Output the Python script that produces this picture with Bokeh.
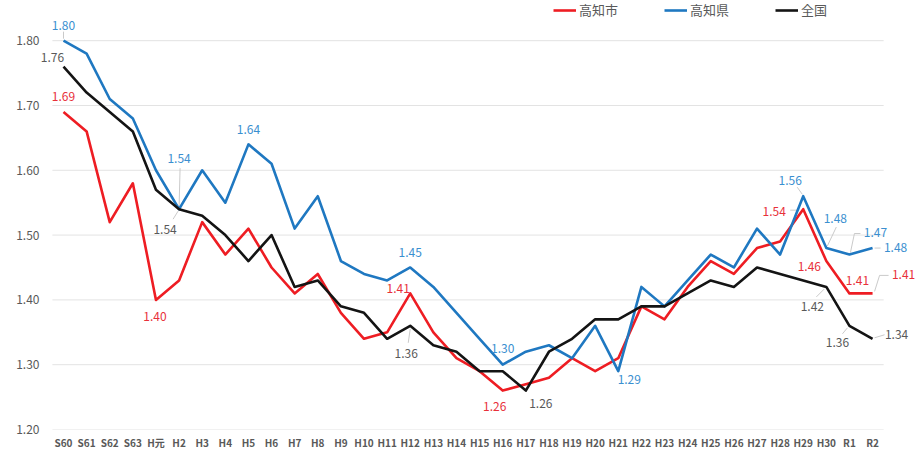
from bokeh.plotting import figure
from bokeh.models import (ColumnDataSource, Range1d, FixedTicker, LabelSet, Legend,
                          LegendItem, NumeralTickFormatter)
from bokeh.embed import file_html
from bokeh.resources import INLINE
from bokeh.core.properties import value

# ---------------- data ----------------
categories = ["S60", "S61", "S62", "S63", "H元", "H2", "H3", "H4", "H5", "H6", "H7", "H8",
              "H9", "H10", "H11", "H12", "H13", "H14", "H15", "H16", "H17", "H18", "H19",
              "H20", "H21", "H22", "H23", "H24", "H25", "H26", "H27", "H28", "H29", "H30",
              "R1", "R2"]

kochi_city = [1.69, 1.66, 1.52, 1.58, 1.40, 1.43, 1.52, 1.47, 1.51, 1.45, 1.41, 1.44,
              1.38, 1.34, 1.35, 1.41, 1.35, 1.31, 1.29, 1.26, 1.27, 1.28, 1.31, 1.29,
              1.31, 1.39, 1.37, 1.42, 1.46, 1.44, 1.48, 1.49, 1.54, 1.46, 1.41, 1.41]

kochi_pref = [1.80, 1.78, 1.71, 1.68, 1.60, 1.54, 1.60, 1.55, 1.64, 1.61, 1.51, 1.56,
              1.46, 1.44, 1.43, 1.45, 1.42, 1.38, 1.34, 1.30, 1.32, 1.33, 1.31, 1.36,
              1.29, 1.42, 1.39, 1.43, 1.47, 1.45, 1.51, 1.47, 1.56, 1.48, 1.47, 1.48]

national = [1.76, 1.72, 1.69, 1.66, 1.57, 1.54, 1.53, 1.50, 1.46, 1.50, 1.42, 1.43,
            1.39, 1.38, 1.34, 1.36, 1.33, 1.32, 1.29, 1.29, 1.26, 1.32, 1.34, 1.37,
            1.37, 1.39, 1.39, 1.41, 1.43, 1.42, 1.45, 1.44, 1.43, 1.42, 1.36, 1.34]

series_names = ["高知市", "高知県", "全国"]
y_ticks = [1.20, 1.30, 1.40, 1.50, 1.60, 1.70, 1.80]

# ---------------- styling / layout ----------------
FONT = "Noto Sans CJK JP"
W, H = 922, 452
ML, MR, MT, MB = 40, 0, 0, 23
X0, X1 = -0.995, 37.16
Y0, Y1 = 1.20, 1.862
PX_X = (W - ML - MR) / (X1 - X0)
PX_Y = (H - MT - MB) / (Y1 - Y0)
GRID_X0, GRID_X1 = -0.48, len(categories) - 1 + 0.48

line_colors = ["#EE1D23", "#1F78C1", "#141414"]
label_colors = ["#E8303A", "#3A8FD0", "#595959"]
LEADER = "#C4C4C4"

# label annotations: (index, dx px, dy px down)
label_specs = [
    [(0, 0, -15), (4, -1, 17), (15, -12, -5), (19, -8, 16), (32, -29, 2),
     (33, -17, 5), (34, 8, -13), (35, 31, -19)],
    [(0, 0, -15), (5, 0, -51), (8, 0, -15), (15, 0, -15), (19, 0, -16),
     (24, 11, 8), (32, -13, -16), (33, 9, -30), (34, 26, -22), (35, 23, -1)],
    [(0, -11, -9), (5, -14, 20), (15, -4, 28), (20, 15, 13), (33, -14, 20),
     (34, -12, 17), (35, 24, -4)],
]
# leader lines: (index, [(dx, dy), ...]) in px relative to the data point
leader_specs = [
    [(32, [(-13, 1), (-4, 1)]), (35, [(2, -2), (7, -18), (16, -18)])],
    [(0, [(0, -2), (0, -9)]), (5, [(1, -41), (0, -2)]), (32, [(-6, -9), (-1, -2)]),
     (33, [(10, -21), (1, -2)]), (34, [(1, -2), (5, -21), (11, -21)]), (35, [(2, 0), (8, 0)])],
    [(5, [(-6, 10), (-1, 2)]), (15, [(-2, 17), (0, 3)]), (33, [(-10, 10), (-2, 2)]),
     (34, [(-7, 8), (-2, 2)]), (35, [(2, -1), (12, -4)])],
]

p = figure(width=W, height=H, x_range=Range1d(X0, X1), y_range=Range1d(Y0, Y1),
           output_backend="svg", toolbar_location=None,
           min_border_left=ML, min_border_right=MR, min_border_top=MT, min_border_bottom=MB)
p.outline_line_color = None
p.background_fill_color = "white"
p.border_fill_color = "white"
p.xgrid.grid_line_color = None
p.ygrid.grid_line_color = None

p.yaxis.ticker = FixedTicker(ticks=y_ticks)
p.yaxis.formatter = NumeralTickFormatter(format="0.00")
p.xaxis.ticker = FixedTicker(ticks=list(range(len(categories))))
p.xaxis.major_label_overrides = {i: c for i, c in enumerate(categories)}
for ax in (p.xaxis, p.yaxis):
    ax.axis_line_color = None
    ax.major_tick_line_color = None
    ax.minor_tick_line_color = None
    ax.major_tick_out = 0
    ax.major_tick_in = 0
    ax.minor_tick_out = 0
    ax.minor_tick_in = 0
    ax.major_label_text_font = FONT
    ax.major_label_text_color = "#595959"
p.yaxis.major_label_text_font_size = "12px"
p.yaxis.major_label_standoff = 1
p.xaxis.major_label_text_font_size = "10px"
p.xaxis.major_label_text_font_style = "bold"
p.xaxis.major_label_standoff = 5

xs = list(range(len(categories)))
all_series = [kochi_city, kochi_pref, national]

# horizontal gridlines limited to the category area
p.segment(x0=[GRID_X0] * len(y_ticks), x1=[GRID_X1] * len(y_ticks), y0=y_ticks, y1=y_ticks,
          line_color="#E3E3E3", line_width=1)

# leader lines (under the data lines)
for s, specs in enumerate(leader_specs):
    lx, ly = [], []
    for idx, pts in specs:
        v = all_series[s][idx]
        lx.append([idx + dx / PX_X for dx, dy in pts])
        ly.append([v - dy / PX_Y for dx, dy in pts])
    p.multi_line(xs=lx, ys=ly, line_color=LEADER, line_width=0.9)

renderers = []
for s, vals in enumerate(all_series):
    r = p.line(xs, vals, line_color=line_colors[s], line_width=2.6, line_join="round")
    renderers.append(r)

for s, specs in enumerate(label_specs):
    vals = all_series[s]
    src = ColumnDataSource(dict(
        x=[i for i, _, _ in specs],
        y=[vals[i] for i, _, _ in specs],
        t=["%.2f" % vals[i] for i, _, _ in specs],
        xo=[dx for _, dx, _ in specs],
        yo=[-dy for _, _, dy in specs],
    ))
    ls = LabelSet(x="x", y="y", text="t", source=src, x_offset="xo", y_offset="yo",
                  text_align="center", text_baseline="middle",
                  text_font=value(FONT), text_font_size="12px",
                  text_color=label_colors[s])
    p.add_layout(ls)

legend = Legend(items=[LegendItem(label=series_names[i], renderers=[renderers[i]])
                       for i in range(3)],
                orientation="horizontal", location=(513, H - MB - 19),
                glyph_width=23, glyph_height=14, label_height=14, label_standoff=3,
                spacing=46, padding=0, margin=0,
                border_line_color=None, background_fill_alpha=0,
                label_text_font=FONT, label_text_font_size="13px",
                label_text_color="#595959")
p.add_layout(legend)

open("out.html", "w").write(file_html(p, INLINE))
